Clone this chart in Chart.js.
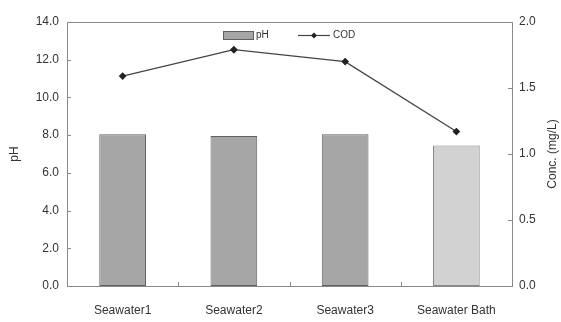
<!DOCTYPE html>
<html>
<head>
<meta charset="utf-8">
<script src="https://cdn.jsdelivr.net/npm/chart.js@4/dist/chart.umd.min.js"></script>
<style>
  html, body { margin: 0; padding: 0; background: #fff; }
  #wrap { width: 561px; height: 322px; }
</style>
</head>
<body>
<div id="wrap"><canvas id="c" width="561" height="322"></canvas></div>
<script>
const categories = ["Seawater1", "Seawater2", "Seawater3", "Seawater Bath"];
const phValues = [8.05, 7.95, 8.05, 7.45];
const codValues = [1.59, 1.79, 1.70, 1.17];
const phTicks = [0, 2, 4, 6, 8, 10, 12, 14];
const concTicks = [0, 0.5, 1.0, 1.5, 2.0];

const FONT = "'Liberation Sans', Arial, sans-serif";
const barFill = ["#a6a6a6", "#a6a6a6", "#a6a6a6", "#d2d2d2"];
const barEdge = ["#606060", "#606060", "#606060", "#888888"];

// Frame, inward ticks, axis titles and the legend
const decorations = {
  id: "decorations",
  afterDraw(chart) {
    const { ctx, chartArea: a, scales } = chart;
    ctx.save();
    ctx.strokeStyle = "#8a8a8a";
    ctx.lineWidth = 1;
    ctx.strokeRect(Math.round(a.left) + 0.5, Math.round(a.top) + 0.5,
                   Math.round(a.right - a.left), Math.round(a.bottom - a.top));
    ctx.beginPath();
    phTicks.forEach(v => {
      const y = Math.round(scales.y.getPixelForValue(v)) + 0.5;
      ctx.moveTo(a.left, y); ctx.lineTo(a.left + 4, y);
    });
    concTicks.forEach(v => {
      const y = Math.round(scales.y2.getPixelForValue(v)) + 0.5;
      ctx.moveTo(a.right, y); ctx.lineTo(a.right - 4, y);
    });
    for (let i = 1; i < categories.length; i++) {
      const x = Math.round((scales.x.getPixelForValue(i - 1) + scales.x.getPixelForValue(i)) / 2) + 0.5;
      ctx.moveTo(x, a.bottom); ctx.lineTo(x, a.bottom - 4);
    }
    ctx.stroke();

    // axis titles, both reading bottom to top
    const midY = (a.top + a.bottom) / 2;
    ctx.fillStyle = "#333";
    ctx.font = "12px " + FONT;
    ctx.textAlign = "center";
    ctx.textBaseline = "middle";
    ctx.save();
    ctx.translate(15, midY);
    ctx.rotate(-Math.PI / 2);
    ctx.fillText("pH", 0, 0);
    ctx.restore();
    ctx.save();
    ctx.translate(553, midY);
    ctx.rotate(-Math.PI / 2);
    ctx.fillText("Conc. (mg/L)", 0, 0);
    ctx.restore();
    ctx.restore();

    // legend
    ctx.save();
    const ly = 35.5;
    ctx.fillStyle = barFill[0];
    ctx.fillRect(223, 31, 30, 8);
    ctx.strokeStyle = barEdge[0];
    ctx.strokeRect(223.5, 31.5, 30, 8);
    ctx.fillStyle = "#333";
    ctx.font = "10px " + FONT;
    ctx.textAlign = "left";
    ctx.textBaseline = "middle";
    ctx.fillText("pH", 256, ly);
    ctx.strokeStyle = "#444";
    ctx.lineWidth = 1.2;
    ctx.beginPath(); ctx.moveTo(298, ly); ctx.lineTo(330, ly); ctx.stroke();
    ctx.fillStyle = "#222";
    ctx.beginPath();
    ctx.moveTo(314, ly - 3); ctx.lineTo(317, ly); ctx.lineTo(314, ly + 3); ctx.lineTo(311, ly);
    ctx.closePath(); ctx.fill();
    ctx.fillStyle = "#333";
    ctx.fillText("COD", 333, ly);
    ctx.restore();
  }
};

new Chart(document.getElementById("c"), {
  data: {
    labels: categories,
    datasets: [
      {
        type: "line",
        label: "COD",
        data: codValues,
        yAxisID: "y2",
        borderColor: "#444",
        borderWidth: 1.3,
        pointStyle: "rectRot",
        pointRadius: 3,
        pointBackgroundColor: "#222",
        pointBorderColor: "#222",
        tension: 0,
        order: 0
      },
      {
        type: "bar",
        label: "pH",
        data: phValues,
        yAxisID: "y",
        backgroundColor: barFill,
        borderColor: barEdge,
        borderWidth: 1,
        borderSkipped: false,
        categoryPercentage: 0.42,
        barPercentage: 1.0,
        order: 1
      }
    ]
  },
  options: {
    responsive: false,
    animation: false,
    layout: { padding: { top: 22, left: 0, right: 0, bottom: 0 } },
    plugins: { legend: { display: false }, tooltip: { enabled: false } },
    scales: {
      x: {
        grid: { display: false, drawTicks: false },
        border: { display: false },
        ticks: { color: "#333", font: { family: FONT, size: 12 }, padding: 17, maxRotation: 0 },
        afterFit(s) { s.height = 36; }
      },
      y: {
        position: "left",
        min: 0, max: 14,
        grid: { display: false, drawTicks: false },
        border: { display: false },
        afterBuildTicks(s) { s.ticks = phTicks.map(v => ({ value: v })); },
        ticks: {
          color: "#333", font: { family: FONT, size: 12 }, padding: 8,
          callback: v => Number(v).toFixed(1)
        },
        afterFit(s) { s.width = 67; }
      },
      y2: {
        position: "right",
        min: 0, max: 2,
        grid: { display: false, drawTicks: false },
        border: { display: false },
        afterBuildTicks(s) { s.ticks = concTicks.map(v => ({ value: v })); },
        ticks: {
          color: "#333", font: { family: FONT, size: 12 }, padding: 7,
          callback: v => Number(v).toFixed(1)
        },
        afterFit(s) { s.width = 49; }
      }
    }
  },
  plugins: [decorations]
});
</script>
</body>
</html>
